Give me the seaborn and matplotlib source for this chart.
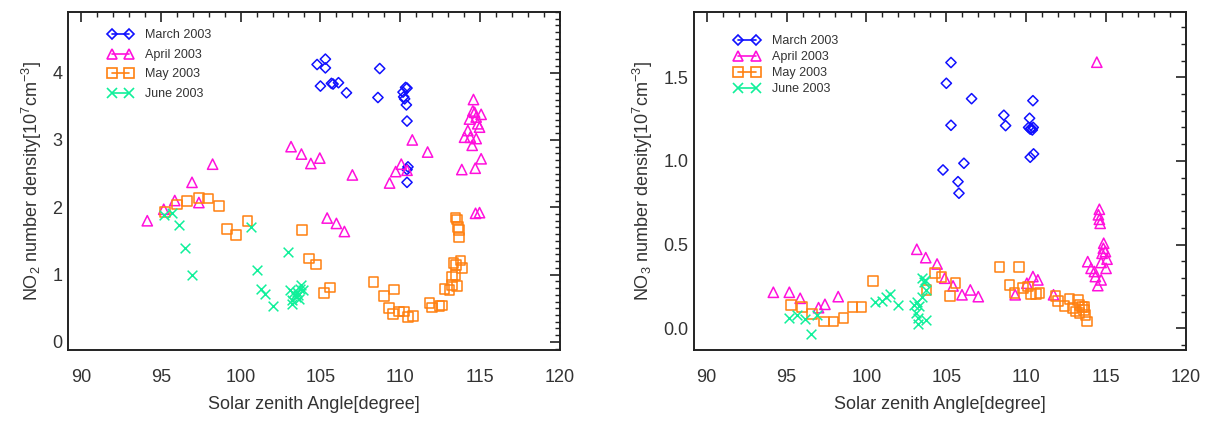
import numpy as np
import pandas as pd
import matplotlib
matplotlib.use("Agg")
import matplotlib.pyplot as plt
from matplotlib.lines import Line2D
from matplotlib.ticker import MultipleLocator
import seaborn as sns

# ---------------- data: NO2 (left panel) ----------------
no2_mar_x = [104.79, 105.31, 105.31, 105.00, 105.69, 105.79, 106.13, 106.63, 108.71, 108.60,
             110.33, 110.42, 110.17, 110.21, 110.27, 110.38, 110.42, 110.48, 110.42, 110.42]
no2_mar_y = [4.12, 4.20, 4.07, 3.80, 3.84, 3.83, 3.85, 3.70, 4.06, 3.63,
             3.78, 3.77, 3.71, 3.64, 3.61, 3.52, 3.28, 2.60, 2.56, 2.37]

no2_apr_x = [94.16, 95.19, 95.88, 96.96, 97.39, 98.25, 103.16, 103.81, 104.40, 104.96,
             105.42, 106.00, 106.50, 107.00, 109.33, 109.71, 110.06, 110.42, 110.75, 111.71,
             113.85, 114.02, 114.23, 114.33, 114.38, 114.50, 114.54, 114.58, 114.65, 114.69,
             114.75, 114.75, 114.85, 114.96, 115.06, 115.06, 114.71, 114.96]
no2_apr_y = [1.80, 1.97, 2.10, 2.37, 2.07, 2.64, 2.90, 2.79, 2.65, 2.73,
             1.84, 1.76, 1.64, 2.48, 2.36, 2.53, 2.64, 2.55, 3.00, 2.82,
             2.56, 3.04, 3.14, 3.31, 3.04, 2.92, 3.43, 3.60, 3.41, 2.58,
             3.34, 3.02, 3.24, 3.19, 3.38, 2.72, 1.91, 1.92]

no2_may_x = [95.27, 96.00, 96.63, 97.40, 97.98, 98.63, 99.17, 99.71, 100.44, 103.85,
             104.27, 104.71, 105.21, 105.58, 108.33, 108.98, 109.60, 109.29, 109.54, 109.90,
             110.23, 110.48, 110.79, 111.83, 112.00, 112.46, 112.63, 112.77, 113.08, 113.25,
             113.33, 113.50, 113.77, 113.88, 113.46, 113.54, 113.25, 113.46, 113.54, 113.60,
             113.67, 113.67]
no2_may_y = [1.93, 2.04, 2.09, 2.14, 2.13, 2.02, 1.68, 1.59, 1.80, 1.66,
             1.24, 1.15, 0.73, 0.81, 0.89, 0.68, 0.78, 0.50, 0.42, 0.45,
             0.45, 0.37, 0.38, 0.58, 0.51, 0.53, 0.54, 0.79, 0.77, 0.96,
             1.17, 1.14, 1.21, 1.10, 0.99, 0.83, 0.85, 1.85, 1.82, 1.71,
             1.66, 1.55]

no2_jun_x = [95.21, 95.69, 96.17, 96.52, 96.98, 100.63, 101.00, 101.29, 101.52, 102.00,
             102.98, 103.08, 103.25, 103.40, 103.54, 103.71, 103.81, 103.46, 103.60, 103.29,
             103.92, 103.19, 103.67]
no2_jun_y = [1.88, 1.92, 1.73, 1.40, 1.00, 1.70, 1.07, 0.79, 0.71, 0.54,
             1.33, 0.77, 0.62, 0.69, 0.74, 0.79, 0.85, 0.66, 0.69, 0.72,
             0.77, 0.57, 0.64]

# ---------------- data: NO3 (right panel) ----------------
no3_mar_x = [105.29, 105.00, 106.58, 110.42, 108.60, 110.21, 108.71, 105.29, 110.15, 110.31,
             110.44, 110.38, 110.25, 110.46, 110.25, 106.10, 104.79, 105.73, 105.79]
no3_mar_y = [1.588, 1.464, 1.372, 1.360, 1.273, 1.255, 1.211, 1.213, 1.200, 1.195,
             1.200, 1.185, 1.190, 1.042, 1.022, 0.986, 0.946, 0.876, 0.807]

no3_apr_x = [94.17, 95.17, 95.85, 97.00, 97.40, 98.23, 103.15, 103.71, 104.42, 104.90,
             105.42, 105.98, 106.50, 107.00, 109.31, 110.04, 110.42, 110.73, 111.71,
             113.85, 114.06, 114.27, 114.33, 114.48, 114.42, 114.52, 114.58, 114.58, 114.63,
             114.69, 114.69, 114.75, 114.83, 114.85, 114.96, 115.00, 115.06]
no3_apr_y = [0.215, 0.215, 0.179, 0.123, 0.143, 0.189, 0.472, 0.422, 0.384, 0.299,
             0.253, 0.200, 0.229, 0.189, 0.200, 0.269, 0.309, 0.289, 0.200,
             0.398, 0.358, 0.339, 0.309, 0.255, 1.590, 0.678, 0.711, 0.651, 0.627,
             0.393, 0.289, 0.448, 0.478, 0.508, 0.458, 0.358, 0.413]

no3_may_x = [95.27, 95.96, 96.58, 97.35, 97.94, 98.56, 99.13, 99.69, 100.42, 103.75,
             104.27, 104.69, 105.21, 105.58, 108.33, 109.54, 108.96, 109.27, 109.79, 110.10,
             110.31, 110.63, 110.83, 111.83, 111.98, 112.40, 112.71, 112.92, 113.13, 113.23,
             113.33, 113.48, 113.60, 113.65, 113.33, 113.71, 113.81]
no3_may_y = [0.139, 0.129, 0.085, 0.040, 0.040, 0.060, 0.127, 0.127, 0.283, 0.229,
             0.329, 0.305, 0.193, 0.269, 0.365, 0.365, 0.259, 0.209, 0.239, 0.249,
             0.205, 0.205, 0.209, 0.193, 0.165, 0.133, 0.173, 0.119, 0.100, 0.169,
             0.139, 0.125, 0.110, 0.125, 0.090, 0.080, 0.040]

no3_jun_x = [95.17, 95.63, 96.17, 96.90, 96.52, 100.54, 100.96, 101.25, 101.48, 102.00,
             102.98, 103.19, 103.29, 103.13, 103.25, 103.25, 103.50, 103.60, 103.50, 103.75,
             103.75, 103.65]
no3_jun_y = [0.060, 0.080, 0.054, 0.080, -0.034, 0.159, 0.165, 0.185, 0.205, 0.139,
             0.139, 0.159, 0.133, 0.090, 0.060, 0.026, 0.299, 0.279, 0.189, 0.049,
             0.229, 0.289]

months = ["March 2003", "April 2003", "May 2003", "June 2003"]
colors = ["#1010ff", "#ff10dc", "#ff8010", "#10f09a"]
markers = ["D", "^", "s", "x"]
msizes = [5.2, 7.4, 7.0, 7.0]  # points

# ---------------- styling ----------------
sns.set_theme(style="white")
plt.rcParams["font.family"] = ["Liberation Sans", "DejaVu Sans"]
plt.rcParams["mathtext.fontset"] = "custom"
plt.rcParams["mathtext.rm"] = "Liberation Sans"
plt.rcParams["mathtext.it"] = "Liberation Sans"
plt.rcParams["text.color"] = "#333333"

fig = plt.figure(figsize=(12.13, 4.21), dpi=100)
axL = fig.add_axes([0.0561, 0.1686, 0.4056, 0.8029])
axR = fig.add_axes([0.5721, 0.1686, 0.4056, 0.8029])

panels = [
    (axL, [(no2_mar_x, no2_mar_y), (no2_apr_x, no2_apr_y), (no2_may_x, no2_may_y), (no2_jun_x, no2_jun_y)],
     (-0.12, 4.9), 1.0, 0.1, r"NO$_2$ number density[10$^7$cm$^{-3}$]", "{x:.0f}"),
    (axR, [(no3_mar_x, no3_mar_y), (no3_apr_x, no3_apr_y), (no3_may_x, no3_may_y), (no3_jun_x, no3_jun_y)],
     (-0.13, 1.89), 0.5, 0.1, r"NO$_3$ number density[10$^7$cm$^{-3}$]", "{x:.1f}"),
]

for ax, series, ylim, ymaj, ymin, ylab, yfmt in panels:
    for (xs, ys), lab, c, m, ms in zip(series, months, colors, markers, msizes):
        df = pd.DataFrame({"sza": xs, "dens": ys})
        sns.scatterplot(data=df, x="sza", y="dens", marker=m, s=ms ** 2,
                        color=c, edgecolor=c, linewidth=1.1, ax=ax, legend=False)
        coll = ax.collections[-1]
        coll.set_edgecolor(c)
        if m != "x":
            coll.set_facecolor("none")
        else:
            coll.set_facecolor(c)
        coll.set_linewidth(1.1)
    ax.set_xlim(89.2, 120.0)
    ax.set_ylim(*ylim)
    ax.xaxis.set_major_locator(MultipleLocator(5))
    ax.xaxis.set_minor_locator(MultipleLocator(1))
    ax.yaxis.set_major_locator(MultipleLocator(ymaj))
    ax.yaxis.set_minor_locator(MultipleLocator(ymin))
    ax.yaxis.set_major_formatter(matplotlib.ticker.StrMethodFormatter(yfmt))
    ax.tick_params(which="both", direction="in", top=True, right=True,
                   colors="#222222", labelcolor="#333333", labelsize=13)
    ax.tick_params(which="major", length=7, width=1.2)
    ax.tick_params(which="minor", length=3.5, width=1.0)
    ax.tick_params(axis="x", which="major", pad=14)
    ax.tick_params(axis="y", which="major", pad=4)
    for sp in ax.spines.values():
        sp.set_color("#222222")
        sp.set_linewidth(1.4)
    ax.set_xlabel("Solar zenith Angle[degree]", fontsize=13, color="#333333", labelpad=7)
    ax.set_ylabel(ylab, fontsize=13, color="#333333", labelpad=6)

# legends: IDL-style (marker at both ends of a short line)
def make_handles():
    hs = []
    for c, m, ms in zip(colors, markers, msizes):
        hs.append(Line2D([0], [0], color=c, lw=1.2, marker=m, markersize=ms,
                         markerfacecolor="none", markeredgecolor=c, markeredgewidth=1.2))
    return hs

axL.legend(make_handles(), months, loc="upper left", bbox_to_anchor=(0.068, 0.967),
           frameon=False, numpoints=2, fontsize=9, handlelength=2.0,
           handletextpad=1.0, labelspacing=0.6, borderpad=0.0, labelcolor="#333333")
axR.legend(make_handles(), months, loc="upper left", bbox_to_anchor=(0.070, 0.950),
           frameon=False, numpoints=2, fontsize=9, handlelength=2.0,
           handletextpad=1.0, labelspacing=0.32, borderpad=0.0, labelcolor="#333333")

fig.savefig("out.png", dpi=100)
